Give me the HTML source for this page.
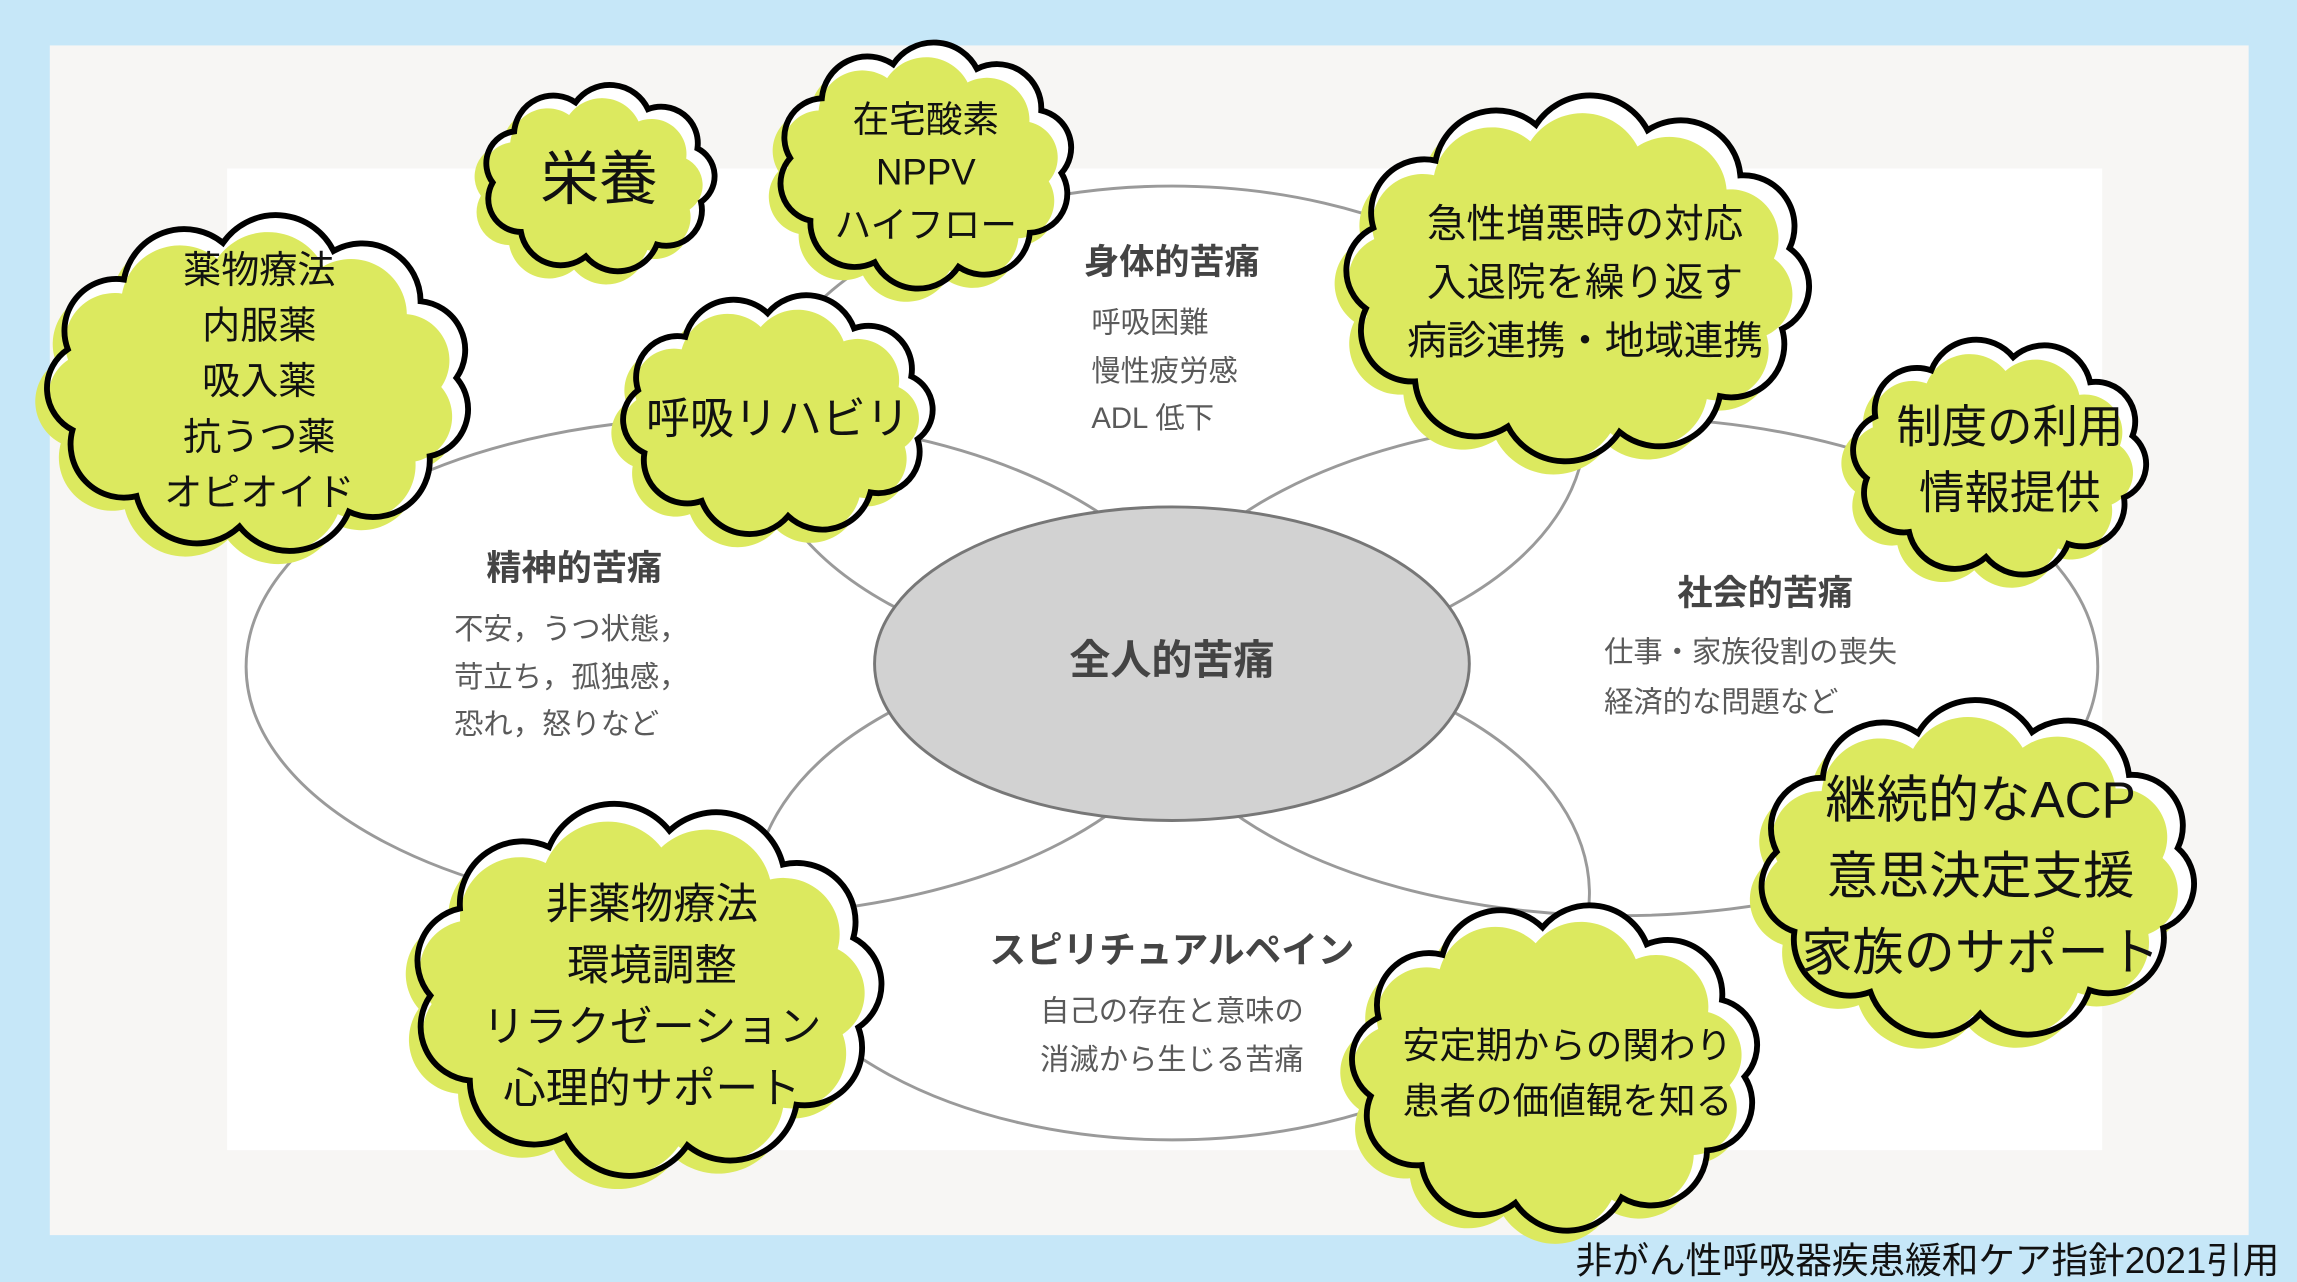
<!DOCTYPE html>
<html><head><meta charset="utf-8"><style>
html,body{margin:0;padding:0;background:#c6e7f8;}
svg{display:block;}
text{font-family:"Liberation Sans","Noto Sans CJK JP",sans-serif;}
</style></head><body>
<svg id="s" width="2297" height="1282" viewBox="0 0 1568 875" preserveAspectRatio="none" xmlns="http://www.w3.org/2000/svg">
<rect x="0" y="0" width="1568" height="875" fill="#c6e7f8"/>
<rect x="34" y="31" width="1501" height="812" fill="#f7f6f4"/>
<rect x="155" y="115" width="1280" height="670" fill="#ffffff"/>
<g fill="none" stroke="#9a9a9a" stroke-width="2">
<ellipse cx="800" cy="292" rx="282" ry="165"/>
<ellipse cx="800" cy="610" rx="285" ry="168"/>
<ellipse cx="494" cy="455" rx="326" ry="170"/>
<ellipse cx="1106" cy="455" rx="326" ry="170"/>
</g>
<ellipse cx="800" cy="453" rx="203" ry="107" fill="#d2d2d2" stroke="#777" stroke-width="2"/>
<g font-weight="bold" fill="#444" text-anchor="middle">
<text x="800" y="187" font-size="24">身体的苦痛</text>
<text x="392" y="396" font-size="24">精神的苦痛</text>
<text x="1205" y="413" font-size="24">社会的苦痛</text>
<text x="800" y="460" font-size="28">全人的苦痛</text>
<text x="800" y="657" font-size="25">スピリチュアルペイン</text>
</g>
<g fill="#5a5a5a" font-size="20">
<text x="745" y="227">呼吸困難</text>
<text x="745" y="260">慢性疲労感</text>
<text x="745" y="292">ADL 低下</text>
<text x="310" y="436">不安，うつ状態，</text>
<text x="310" y="469">苛立ち，孤独感，</text>
<text x="310" y="501">恐れ，怒りなど</text>
<text x="1095" y="452">仕事・家族役割の喪失</text>
<text x="1095" y="486">経済的な問題など</text>
<text x="800" y="697" text-anchor="middle">自己の存在と意味の</text>
<text x="800" y="730" text-anchor="middle">消滅から生じる苦痛</text>
</g>
<g id="clouds"></g>
<g fill="#111" text-anchor="middle">
<text x="409" y="136" font-size="40">栄養</text>
<text x="632" y="90" font-size="25">在宅酸素</text>
<text x="632" y="126" font-size="25">NPPV</text>
<text x="632" y="162" font-size="25">ハイフロー</text>
<text x="177" y="193" font-size="26">薬物療法</text>
<text x="177" y="231" font-size="26">内服薬</text>
<text x="177" y="269" font-size="26">吸入薬</text>
<text x="177" y="307" font-size="26">抗うつ薬</text>
<text x="177" y="345" font-size="26">オピオイド</text>
<text x="531" y="296" font-size="30">呼吸リハビリ</text>
<text x="1082" y="162" font-size="27">急性増悪時の対応</text>
<text x="1082" y="202" font-size="27">入退院を繰り返す</text>
<text x="1082" y="242" font-size="27">病診連携・地域連携</text>
<text x="1372" y="302" font-size="31">制度の利用</text>
<text x="1372" y="347" font-size="31">情報提供</text>
<text x="1352" y="558" font-size="35">継続的なACP</text>
<text x="1352" y="610" font-size="35">意思決定支援</text>
<text x="1352" y="662" font-size="35">家族のサポート</text>
<text x="445" y="627" font-size="29">非薬物療法</text>
<text x="445" y="669" font-size="29">環境調整</text>
<text x="445" y="711" font-size="29">リラクゼーション</text>
<text x="445" y="753" font-size="29">心理的サポート</text>
<text x="1070" y="722" font-size="25">安定期からの関わり</text>
<text x="1070" y="760" font-size="25">患者の価値観を知る</text>
</g>
<text x="1556" y="869" font-size="25" text-anchor="end" fill="#111">非がん性呼吸器疾患緩和ケア指針2021引用</text>
</svg>
<script>
(function(){
var C=[[409,122,80,60,9],[632,113,102,80,10],[177,262,148,110,11],[531,283,108,78,10],[1077,190,162,120,12],[1365,312,102,77,10],[1350,594,152,110,11],[442,675,163,122,11],[1062,728,142,107,11]];
function path(cx,cy,rx,ry,n,ph){var d="",pts=[];for(var i=0;i<n;i++){var a=ph+i*2*Math.PI/n;pts.push([cx+rx*Math.cos(a),cy+ry*Math.sin(a)]);}
d="M"+pts[0][0].toFixed(1)+","+pts[0][1].toFixed(1);
for(var i=0;i<n;i++){var p=pts[i],q=pts[(i+1)%n];var ch=Math.hypot(q[0]-p[0],q[1]-p[1]);var r=ch*0.58;d+=" A"+r.toFixed(1)+","+r.toFixed(1)+" 0 0 1 "+q[0].toFixed(1)+","+q[1].toFixed(1);}
return d+"Z";}
var g=document.getElementById("clouds"),h="";
C.forEach(function(c,k){var ph=0.3+k*0.4;var sx=c[2]*0.91,sy=c[3]*0.89;
var main=path(c[0],c[1],sx,sy,c[4],ph);
h+='<path d="'+path(c[0]-8,c[1]+9,sx,sy,c[4],ph)+'" fill="#dce95f"/>';
h+='<path d="'+main+'" fill="#ffffff"/>';
h+='<path d="'+path(c[0]-5,c[1]+6,sx*0.96,sy*0.95,c[4],ph)+'" fill="#dce95f"/>';
h+='<path d="'+main+'" fill="none" stroke="#000" stroke-width="4"/>';});
g.innerHTML=h;})();
</script>
</body></html>
